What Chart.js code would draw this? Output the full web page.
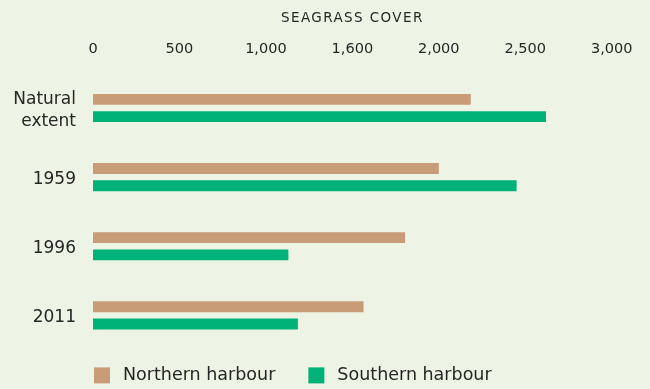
<!DOCTYPE html>
<html>
<head>
<meta charset="utf-8">
<script src="https://cdn.jsdelivr.net/npm/chart.js@4"></script>
<style>
  html, body { margin: 0; padding: 0; background: #EEF4E5; }
  canvas { display: block; }
</style>
</head>
<body>
<canvas id="chart" width="650" height="389"></canvas>
<script>
// Seagrass cover by period, northern vs southern harbour
const categories = [['Natural', 'extent'], '1959', '1996', '2011'];
const northernHarbour = [2185, 2000, 1805, 1565];
const southernHarbour = [2620, 2450, 1130, 1185];
const tickLabels = ['0', '500', '1,000', '1,600', '2,000', '2,500', '3,000'];
const axisTitle = 'SEAGRASS COVER';
const seriesNames = ['Northern harbour', 'Southern harbour'];

const TAN = '#C99C78';
const GREEN = '#00B277';
const INK = '#262626';
const FONT = '"DejaVu Sans", sans-serif';

// Spaced-out letters for the axis title; reset before the bars and tick labels
const titleSpacing = {
  id: 'titleSpacing',
  beforeDraw(chart) { chart.ctx.letterSpacing = '1.4px'; },
  beforeDatasetsDraw(chart) { chart.ctx.letterSpacing = '0px'; }
};

// Square-swatch legend under the plot, starting at the plot's left edge
const swatchLegend = {
  id: 'swatchLegend',
  afterDraw(chart) {
    const ctx = chart.ctx;
    const area = chart.chartArea;
    const size = 16;
    const top = area.bottom + 17.5;
    let x = area.left + 1;
    ctx.save();
    ctx.letterSpacing = '0px';
    ctx.font = '17.5px ' + FONT;
    ctx.textBaseline = 'middle';
    ctx.textAlign = 'left';
    chart.data.datasets.forEach((ds) => {
      ctx.fillStyle = ds.backgroundColor;
      ctx.fillRect(x, top, size, size);
      const tx = x + size + 13;
      ctx.fillStyle = INK;
      ctx.fillText(ds.label, tx, top + size / 2 + 0.5);
      x = tx + ctx.measureText(ds.label).width + 33;
    });
    ctx.restore();
  }
};

new Chart(document.getElementById('chart'), {
  type: 'bar',
  data: {
    labels: categories,
    datasets: [
      { label: seriesNames[0], data: northernHarbour, backgroundColor: TAN },
      { label: seriesNames[1], data: southernHarbour, backgroundColor: GREEN }
    ]
  },
  options: {
    indexAxis: 'y',
    responsive: false,
    animation: false,
    events: [],
    layout: { padding: { left: 0, top: 0, right: 38.3, bottom: 36.6 } },
    datasets: {
      bar: { categoryPercentage: 0.5, barPercentage: 0.63, borderWidth: 0 }
    },
    plugins: {
      legend: { display: false },
      tooltip: { enabled: false }
    },
    scales: {
      x: {
        position: 'top',
        min: 0,
        max: 3000,
        grid: { display: false, drawTicks: false },
        border: { display: false },
        ticks: {
          stepSize: 500,
          z: 1,
          padding: 15,
          color: INK,
          font: { family: FONT, size: 14.5 },
          maxRotation: 0,
          callback: (value, index) => tickLabels[index]
        },
        title: {
          display: true,
          text: axisTitle,
          color: INK,
          font: { family: FONT, size: 13.5 },
          padding: { top: 10, bottom: 0 }
        },
        afterFit(scale) { scale.height = 73.4; }
      },
      y: {
        grid: { display: false, drawTicks: false },
        border: { display: false },
        ticks: {
          z: 1,
          padding: 17,
          labelOffset: 2.5,
          color: INK,
          font: { family: FONT, size: 17, lineHeight: 1.3 }
        },
        afterFit(scale) { scale.width = 93; }
      }
    }
  },
  plugins: [titleSpacing, swatchLegend]
});
</script>
</body>
</html>
